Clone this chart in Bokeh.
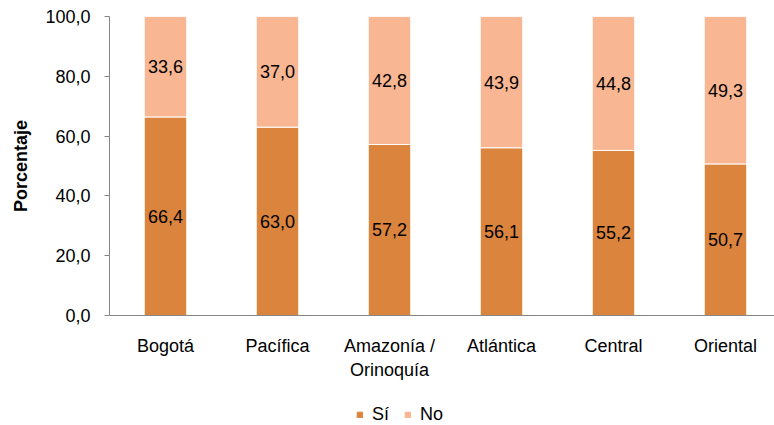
from bokeh.plotting import figure
from bokeh.layouts import column
from bokeh.models import ColumnDataSource, Range1d, FixedTicker, Legend, LegendItem, LabelSet
from bokeh.core.properties import value
from bokeh.embed import file_html
from bokeh.resources import INLINE

regions = ["Bogotá", "Pacífica", "Amazonía /\nOrinoquía", "Atlántica", "Central", "Oriental"]
si = [66.4, 63.0, 57.2, 56.1, 55.2, 50.7]
no = [33.6, 37.0, 42.8, 43.9, 44.8, 49.3]
y_ticks = [0, 20, 40, 60, 80, 100]
series = ["Sí", "No"]
colors = ["#DB843D", "#F9B692"]

FONT = "Liberation Sans"
FS = "18px"
xs = list(range(len(regions)))

def fmt(v):
    return f"{v:.1f}".replace(".", ",")

src = ColumnDataSource(dict(
    x=xs, si=si, no=no,
    si_mid=[s / 2 for s in si],
    no_mid=[s + n / 2 for s, n in zip(si, no)],
    si_lab=[fmt(v) for v in si],
    no_lab=[fmt(v) for v in no],
))

p = figure(width=774, height=395, output_backend="svg", toolbar_location=None,
           x_range=Range1d(-0.5, 5.4375), y_range=Range1d(0, 100),
           min_border_left=109, min_border_right=0, min_border_top=16, min_border_bottom=80)
p.outline_line_color = None
p.grid.visible = False

rs = p.vbar_stack(["si", "no"], x="x", width=0.38, source=src, color=colors,
                  line_color="white", line_width=1)

for ycol, tcol in (("si_mid", "si_lab"), ("no_mid", "no_lab")):
    p.add_layout(LabelSet(x="x", y=ycol, text=tcol, source=src, text_align="center",
                          text_baseline="middle", text_font=value(FONT), text_font_size=FS,
                          text_color="#000000"))

# y axis
ya = p.yaxis[0]
ya.ticker = FixedTicker(ticks=y_ticks)
ya.major_label_overrides = {t: fmt(t) for t in y_ticks}
ya.minor_tick_line_color = None
ya.major_tick_out = 5
ya.major_tick_in = 0
ya.axis_line_color = "#868686"
ya.major_tick_line_color = "#868686"
ya.major_label_text_font = FONT
ya.major_label_text_font_size = FS
ya.major_label_text_color = "#000000"
ya.major_label_standoff = 14
ya.axis_label = "Porcentaje"
ya.axis_label_text_font = FONT
ya.axis_label_text_font_size = FS
ya.axis_label_text_font_style = "bold"
ya.axis_label_text_color = "#000000"
ya.axis_label_standoff = 11

# x axis
xa = p.xaxis[0]
xa.ticker = FixedTicker(ticks=xs)
xa.major_label_overrides = {i: r for i, r in enumerate(regions)}
xa.minor_tick_line_color = None
xa.major_tick_out = 0
xa.major_tick_in = 0
xa.axis_line_color = "#868686"
xa.major_label_text_font = FONT
xa.major_label_text_font_size = FS
xa.major_label_text_color = "#000000"
xa.major_label_standoff = 20

# legend strip below the chart (dummy renderers lie outside its range)
pl = figure(width=774, height=30, output_backend="svg", toolbar_location=None,
            x_range=Range1d(0, 1), y_range=Range1d(0, 1),
            x_axis_location=None, y_axis_location=None,
            min_border_left=0, min_border_right=0, min_border_top=0, min_border_bottom=0)
pl.outline_line_color = None
pl.grid.visible = False
dummies = [pl.vbar(x=[-5], top=[-5], bottom=[-6], width=0.1, color=c) for c in colors]
legend = Legend(items=[LegendItem(label=s, renderers=[r]) for s, r in zip(series, dummies)],
                orientation="horizontal", location=(247, 0),
                label_text_font=FONT, label_text_font_size=FS, label_text_color="#000000",
                glyph_width=7, glyph_height=7, spacing=12, padding=0, margin=0,
                label_standoff=9, border_line_color=None, background_fill_alpha=0)
pl.add_layout(legend, "center")

open("out.html", "w").write(file_html(column(p, pl, spacing=0), INLINE))
